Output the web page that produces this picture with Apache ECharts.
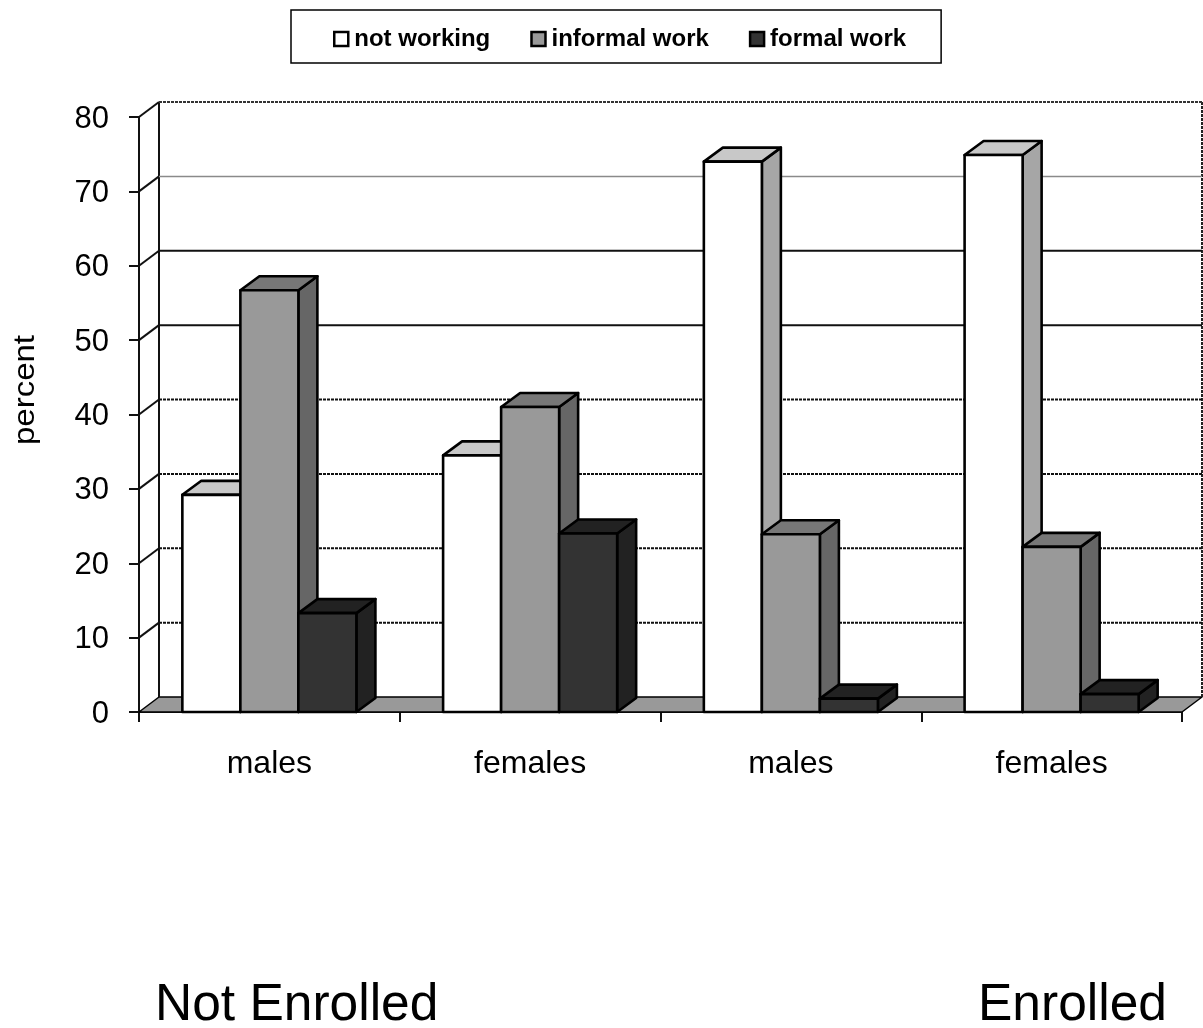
<!DOCTYPE html>
<html>
<head>
<meta charset="utf-8">
<style>html,body{margin:0;padding:0;background:#fff}#chart{width:1203px;height:1028px}</style>
<script src="https://cdn.jsdelivr.net/npm/echarts@6/dist/echarts.min.js"></script>
</head>
<body>
<div id="chart"></div>
<script>
// Work status of youth by enrolment and sex (percent)
const categories = ['males', 'females', 'males', 'females'];
const notWorking = [29.2, 34.5, 74.0, 74.9];
const informalWork = [56.7, 41.0, 23.9, 22.2];
const formalWork = [13.3, 24.0, 1.8, 2.4];
const percentTicks = [0, 10, 20, 30, 40, 50, 60, 70, 80];

// Oblique projection used for the pseudo-3D walls and bars
const DEPTH_X = 20;
const DEPTH_Y = -15;
const BAR_DEPTH_X = 19;
const BAR_DEPTH_Y = -14;
const EDGE = '#000';

const chart = echarts.init(document.getElementById('chart'));

function poly(points, fill, lineWidth) {
  return {
    type: 'polygon',
    shape: { points },
    style: { fill, stroke: EDGE, lineWidth, lineJoin: 'round' }
  };
}
function seg(a, b, stroke, lineWidth, lineDash) {
  return {
    type: 'line',
    shape: { x1: a[0], y1: a[1], x2: b[0], y2: b[1] },
    style: { stroke, lineWidth, lineDash: lineDash || null }
  };
}

// Back wall, side wall and floor, one element group per percent tick
function renderWall(params, api) {
  const v = api.value(0);
  const left = api.coord([0, v]);
  const band = api.size([1, 0])[0];
  const x0 = left[0] - band / 2;
  const x1 = x0 + band * categories.length;
  const y = left[1];
  const kids = [];
  const shade = v === 70 ? '#8a8a8a' : v === 80 ? '#333' : '#111';
  const w = v === 70 ? 1.5 : 2;
  const dash = v <= 40 || v === 80 ? [3, 1] : null;
  if (v === 0) {
    const top = api.coord([0, 80])[1];
    kids.push(poly([[x0, y], [x0 + DEPTH_X, y + DEPTH_Y], [x1 + DEPTH_X, y + DEPTH_Y], [x1, y]], '#999', 1.5));
    kids.push(seg([x0 + DEPTH_X, top + DEPTH_Y], [x0 + DEPTH_X, y + DEPTH_Y], '#111', 2));
    kids.push(seg([x1 + DEPTH_X, top + DEPTH_Y], [x1 + DEPTH_X, y + DEPTH_Y], '#222', 2, [3, 1]));
  } else {
    kids.push(seg([x0, y], [x0 + DEPTH_X, y + DEPTH_Y], '#111', 2));
    kids.push(seg([x0 + DEPTH_X, y + DEPTH_Y], [x1 + DEPTH_X, y + DEPTH_Y], shade, w, dash));
  }
  return { type: 'group', children: kids };
}

// A single box: front face from the value, top and side receding into the wall
function makeBar(slot, faces) {
  return function (params, api) {
    const idx = api.value(0);
    const top = api.coord([idx, api.value(1)]);
    const base = api.coord([idx, 0]);
    const bw = api.size([1, 0])[0] * 0.2225;
    const xl = top[0] + (slot - 1.5) * bw;
    const xr = xl + bw;
    const yt = top[1];
    const yb = base[1];
    return {
      type: 'group',
      children: [
        poly([[xr, yb], [xr + BAR_DEPTH_X, yb + BAR_DEPTH_Y], [xr + BAR_DEPTH_X, yt + BAR_DEPTH_Y], [xr, yt]], faces.side, 2.6),
        poly([[xl, yt], [xl + BAR_DEPTH_X, yt + BAR_DEPTH_Y], [xr + BAR_DEPTH_X, yt + BAR_DEPTH_Y], [xr, yt]], faces.top, 2.6),
        poly([[xl, yt], [xr, yt], [xr, yb], [xl, yb]], faces.front, 2.6)
      ]
    };
  };
}

function barSeries(name, values, slot, faces) {
  return {
    name,
    type: 'custom',
    clip: false,
    z: 3,
    itemStyle: { color: faces.front, borderColor: EDGE, borderWidth: 2 },
    renderItem: makeBar(slot, faces),
    encode: { x: 0, y: 1 },
    data: values.map((v, i) => [i, v])
  };
}

const legendNames = ['not working', 'informal work', 'formal work'];
const legendFills = ['#fff', '#999', '#333'];

chart.setOption({
  animation: false,
  backgroundColor: '#fff',
  textStyle: { fontFamily: '"Liberation Sans", Arial, sans-serif', color: '#000' },
  grid: { left: 139, right: 21, top: 117, bottom: 316, containLabel: false },
  legend: {
    left: 291,
    top: 10,
    orient: 'horizontal',
    backgroundColor: '#fff',
    borderColor: '#000',
    borderWidth: 1.5,
    padding: [17, 35, 12, 42],
    itemGap: 40,
    itemWidth: 14,
    itemHeight: 14,
    textStyle: { fontSize: 24, fontWeight: 'bold', color: '#000', padding: [0, 0, 0, 1], fontFamily: '"Liberation Sans", Arial, sans-serif' },
    data: legendNames.map((name, i) => ({
      name,
      icon: 'rect',
      itemStyle: { color: legendFills[i], borderColor: '#000', borderWidth: 2.5 }
    }))
  },
  xAxis: {
    type: 'category',
    data: categories,
    boundaryGap: true,
    axisLine: { show: true, lineStyle: { color: '#222', width: 2 } },
    axisTick: { show: true, length: 10, inside: false, alignWithLabel: false, lineStyle: { color: '#111', width: 2 } },
    axisLabel: { fontSize: 32, color: '#000', margin: 36, interval: 0 },
    splitLine: { show: false }
  },
  yAxis: {
    type: 'value',
    min: 0,
    max: 80,
    interval: 10,
    axisLine: { show: true, lineStyle: { color: '#111', width: 2 } },
    axisTick: { show: true, length: 10, lineStyle: { color: '#111', width: 2 } },
    axisLabel: {
      color: '#000',
      margin: 30,
      formatter: '{n|{value}}',
      rich: { n: { fontSize: 31, color: '#000', padding: [4, 0, 0, 0] } }
    },
    splitLine: { show: false }
  },
  title: [
    { text: 'Not Enrolled', left: 155, top: 980, padding: 0, textStyle: { fontSize: 51.5, fontWeight: 'normal', color: '#000' } },
    { text: 'Enrolled', left: 978, top: 980, padding: 0, textStyle: { fontSize: 51.5, fontWeight: 'normal', color: '#000' } }
  ],
  graphic: [
    {
      type: 'text',
      x: 26,
      y: 390,
      rotation: Math.PI / 2,
      scaleX: 1.1,
      style: { text: 'percent', fontSize: 30, fill: '#000', align: 'center', verticalAlign: 'middle', fontFamily: '"Liberation Sans", Arial, sans-serif' }
    }
  ],
  series: [
    {
      type: 'custom',
      silent: true,
      clip: false,
      z: 1,
      renderItem: renderWall,
      encode: { y: 0 },
      data: percentTicks.map(v => [v])
    },
    barSeries('not working', notWorking, 0, { front: '#fff', top: '#c8c8c8', side: '#a6a6a6' }),
    barSeries('informal work', informalWork, 1, { front: '#999', top: '#777', side: '#666' }),
    barSeries('formal work', formalWork, 2, { front: '#333', top: '#222', side: '#222' })
  ]
});
</script>
</body>
</html>
